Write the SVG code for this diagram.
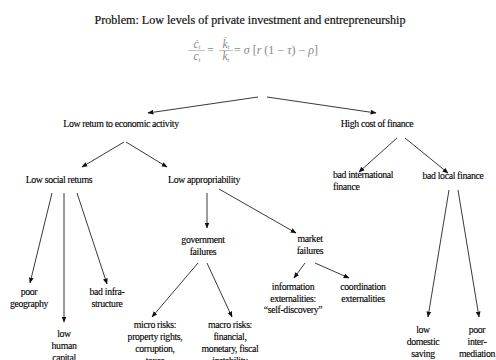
<svg xmlns="http://www.w3.org/2000/svg" width="496" height="360" viewBox="0 0 496 360" font-family="'Liberation Serif', 'Times New Roman', serif">
<defs>
<marker id="ah" viewBox="0 0 10 10" refX="9" refY="5" markerWidth="6" markerHeight="6" orient="auto" markerUnits="userSpaceOnUse">
<path d="M0,1 L10,5 L0,9 z" fill="#111"/>
</marker>
</defs>
<style>
text{font-family:'Liberation Serif','Times New Roman',serif;font-size:9.8px;fill:#000;stroke:#000;stroke-width:0.12px;text-anchor:middle;letter-spacing:-0.35px}
.title{font-size:11.5px;letter-spacing:0;fill:#111;stroke:#111;stroke-width:0.2px}
.eq{font-size:11.5px;fill:#888;stroke:none;letter-spacing:0;font-style:italic}
.eqn{font-style:normal}
.sub{font-size:7px}
.l{text-anchor:start}
line.c{stroke:#222;stroke-width:0.9;marker-end:url(#ah)}
</style>
<rect width="496" height="360" fill="#fff"/>
<g id="problem">
<text class="title" x="250" y="24" textLength="311" lengthAdjust="spacingAndGlyphs">Problem: Low levels of private investment and entrepreneurship</text>
<g id="equation">
<line x1="188" y1="50.5" x2="205" y2="50.5" stroke="#999" stroke-width="0.6"/>
<line x1="219" y1="50.5" x2="233" y2="50.5" stroke="#999" stroke-width="0.6"/>
<text class="eq" x="197" y="47.5">ċ<tspan class="sub" dy="1.5">t</tspan></text>
<text class="eq" x="197" y="60">c<tspan class="sub" dy="1.5">t</tspan></text>
<text class="eq eqn" x="210.5" y="54">=</text>
<text class="eq" x="226" y="47.5">k̇<tspan class="sub" dy="1.5">t</tspan></text>
<text class="eq" x="226" y="60">k<tspan class="sub" dy="1.5">t</tspan></text>
<text class="eq l" x="234" y="54" textLength="84" lengthAdjust="spacingAndGlyphs"><tspan class="eqn">=</tspan> σ <tspan class="eqn">[</tspan>r <tspan class="eqn">(1 − </tspan>τ<tspan class="eqn">) − </tspan>ρ<tspan class="eqn">]</tspan></text>
</g>
</g>
<g id="connectors">
<line class="c" x1="258" y1="97" x2="148" y2="113"/>
<line class="c" x1="267" y1="97" x2="376" y2="113"/>
<line class="c" x1="124" y1="142" x2="82" y2="167"/>
<line class="c" x1="126" y1="142" x2="167" y2="167"/>
<line class="c" x1="397" y1="138" x2="359" y2="172"/>
<line class="c" x1="405" y1="138" x2="448" y2="173"/>
<line class="c" x1="52" y1="193" x2="30" y2="283"/>
<line class="c" x1="64" y1="193" x2="64" y2="322"/>
<line class="c" x1="77" y1="193" x2="107" y2="284"/>
<line class="c" x1="207" y1="193" x2="207" y2="228"/>
<line class="c" x1="219" y1="189" x2="296" y2="233"/>
<line class="c" x1="198" y1="263" x2="152" y2="317"/>
<line class="c" x1="207" y1="263" x2="232" y2="317"/>
<line class="c" x1="305" y1="263" x2="294" y2="278"/>
<line class="c" x1="315" y1="263" x2="349" y2="278"/>
<line class="c" x1="449" y1="190" x2="428" y2="317"/>
<line class="c" x1="458" y1="190" x2="479" y2="317"/>
</g>
<g id="low-return"><text x="121" y="127">Low return to economic activity</text></g>
<g id="high-cost"><text x="377" y="127">High cost of finance</text></g>
<g id="low-social"><text x="59" y="183">Low social returns</text></g>
<g id="low-approp"><text x="204" y="183">Low appropriability</text></g>
<g id="bad-intl"><text class="l" x="333" y="178">bad international</text><text class="l" x="333" y="190">finance</text></g>
<g id="bad-local"><text x="453" y="179">bad local finance</text></g>
<g id="poor-geo"><text x="29" y="295">poor</text><text x="29" y="307">geography</text></g>
<g id="low-human"><text x="64" y="337">low</text><text x="64" y="349">human</text><text x="64" y="361">capital</text></g>
<g id="bad-infra"><text x="107" y="295">bad infra-</text><text x="107" y="307">structure</text></g>
<g id="gov-fail"><text x="203" y="243">government</text><text x="203" y="255">failures</text></g>
<g id="mkt-fail"><text x="310" y="242">market</text><text x="310" y="254">failures</text></g>
<g id="micro"><text x="155" y="328">micro risks:</text><text x="155" y="340">property rights,</text><text x="155" y="352">corruption,</text><text x="155" y="364">taxes</text></g>
<g id="macro"><text x="230" y="328">macro risks:</text><text x="230" y="340">financial,</text><text x="230" y="352">monetary, fiscal</text><text x="230" y="364">instability</text></g>
<g id="info-ext"><text x="293" y="290">information</text><text x="293" y="302">externalities:</text><text x="293" y="313">“self-discovery”</text></g>
<g id="coord-ext"><text x="363" y="290">coordination</text><text x="363" y="302">externalities</text></g>
<g id="low-saving"><text x="423" y="333">low</text><text x="423" y="345">domestic</text><text x="423" y="357">saving</text></g>
<g id="poor-inter"><text x="477" y="333">poor</text><text x="477" y="345">inter-</text><text x="477" y="357">mediation</text></g>
</svg>
